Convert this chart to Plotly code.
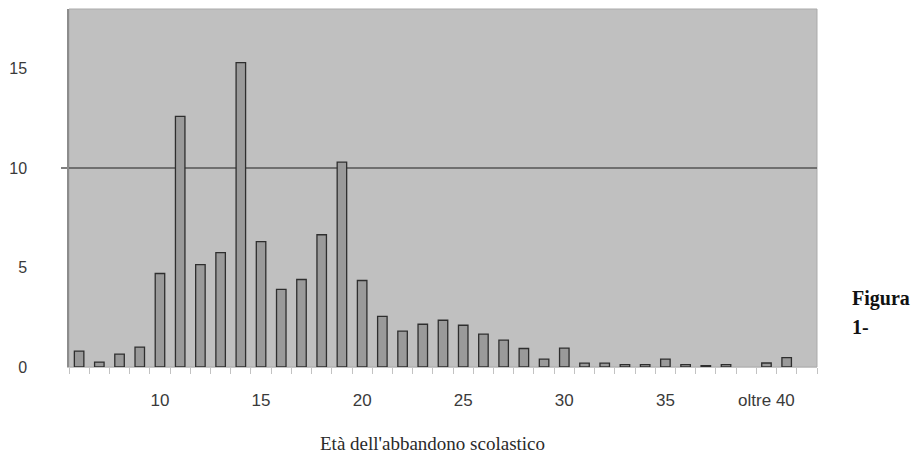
import plotly.graph_objects as go

# Categories (age of school dropout) and percentages (None = no bar)
ages = [str(a) for a in range(6, 43)]
values = [0.8, 0.25, 0.65, 1.0, 4.7, 12.6, 5.15, 5.75, 15.3, 6.3, 3.9, 4.4,
          6.65, 10.3, 4.35, 2.55, 1.8, 2.15, 2.35, 2.1, 1.65, 1.35, 0.93,
          0.4, 0.95, 0.19, 0.19, 0.12, 0.12, 0.4, 0.12, 0.07, 0.12, None,
          0.2, 0.47, None]
label_every = {"10": "10", "15": "15", "20": "20", "25": "25", "30": "30",
               "35": "35", "40": "oltre 40"}
y_ticks = [0, 5, 10, 15]
x_title = "Età dell'abbandono scolastico"
side_note_1 = "<b>Figura</b>"
side_note_2 = "<b>1-</b>"

W, H = 916, 453
L, R, T, B = 67, 99, 9, 86
PW, PH = W - L - R, H - T - B

fig = go.Figure()
fig.add_trace(go.Bar(
    x=ages, y=values,
    marker=dict(color="#9a9a9a", line=dict(color="#2e2e2e", width=1.3)),
    showlegend=False,
))

fig.update_layout(
    width=W, height=H,
    margin=dict(l=L, r=R, t=T, b=B),
    paper_bgcolor="white",
    plot_bgcolor="#c0c0c0",
    bargap=0.53,
    font=dict(family="Liberation Sans, Arial", size=16, color="#3a3a3a"),
    xaxis=dict(
        type="category",
        tickmode="array",
        tickvals=ages,
        ticktext=[label_every.get(a, "") for a in ages],
        tickangle=0,
        tickfont=dict(size=17),
        tickson="boundaries",
        ticks="outside", ticklen=6, tickcolor="#c2c2c2", tickwidth=1,
        showline=True, linecolor="#c6c6c6", linewidth=1,
        showgrid=False, zeroline=False,
        ticklabelstandoff=18,
        range=[-0.5, len(ages) - 0.5],
    ),
    yaxis=dict(
        range=[0, 18.0],
        tickmode="array", tickvals=y_ticks,
        ticks="", showgrid=False, zeroline=False,
        showline=True, linecolor="#8c8c8c", linewidth=1.5,
        ticklabelstandoff=37,
    ),
    shapes=[
        dict(type="rect", xref="paper", yref="paper", x0=0, x1=1, y0=0, y1=1,
             line=dict(color="#ababab", width=1), layer="below"),
        dict(type="line", xref="paper", yref="y", x0=-8 / PW, x1=1, y0=10, y1=10,
             line=dict(color="#555555", width=1.5), layer="below"),
    ],
    annotations=[
        dict(text=x_title, xref="paper", yref="paper",
             x=(431 - L) / PW, y=(H - B - 443) / PH, xanchor="center", yanchor="middle",
             showarrow=False,
             font=dict(family="Liberation Serif, Times New Roman", size=19, color="#2a2a2a")),
        dict(text=side_note_1, xref="paper", yref="paper",
             x=(850 - L) / PW, y=(H - B - 298) / PH, xanchor="left", yanchor="middle",
             align="left", showarrow=False,
             font=dict(family="Liberation Serif, Times New Roman", size=20, color="#111111")),
        dict(text=side_note_2, xref="paper", yref="paper",
             x=(850 - L) / PW, y=(H - B - 327) / PH, xanchor="left", yanchor="middle",
             align="left", showarrow=False,
             font=dict(family="Liberation Serif, Times New Roman", size=20, color="#111111")),
    ],
)

fig.write_html("out.html")
